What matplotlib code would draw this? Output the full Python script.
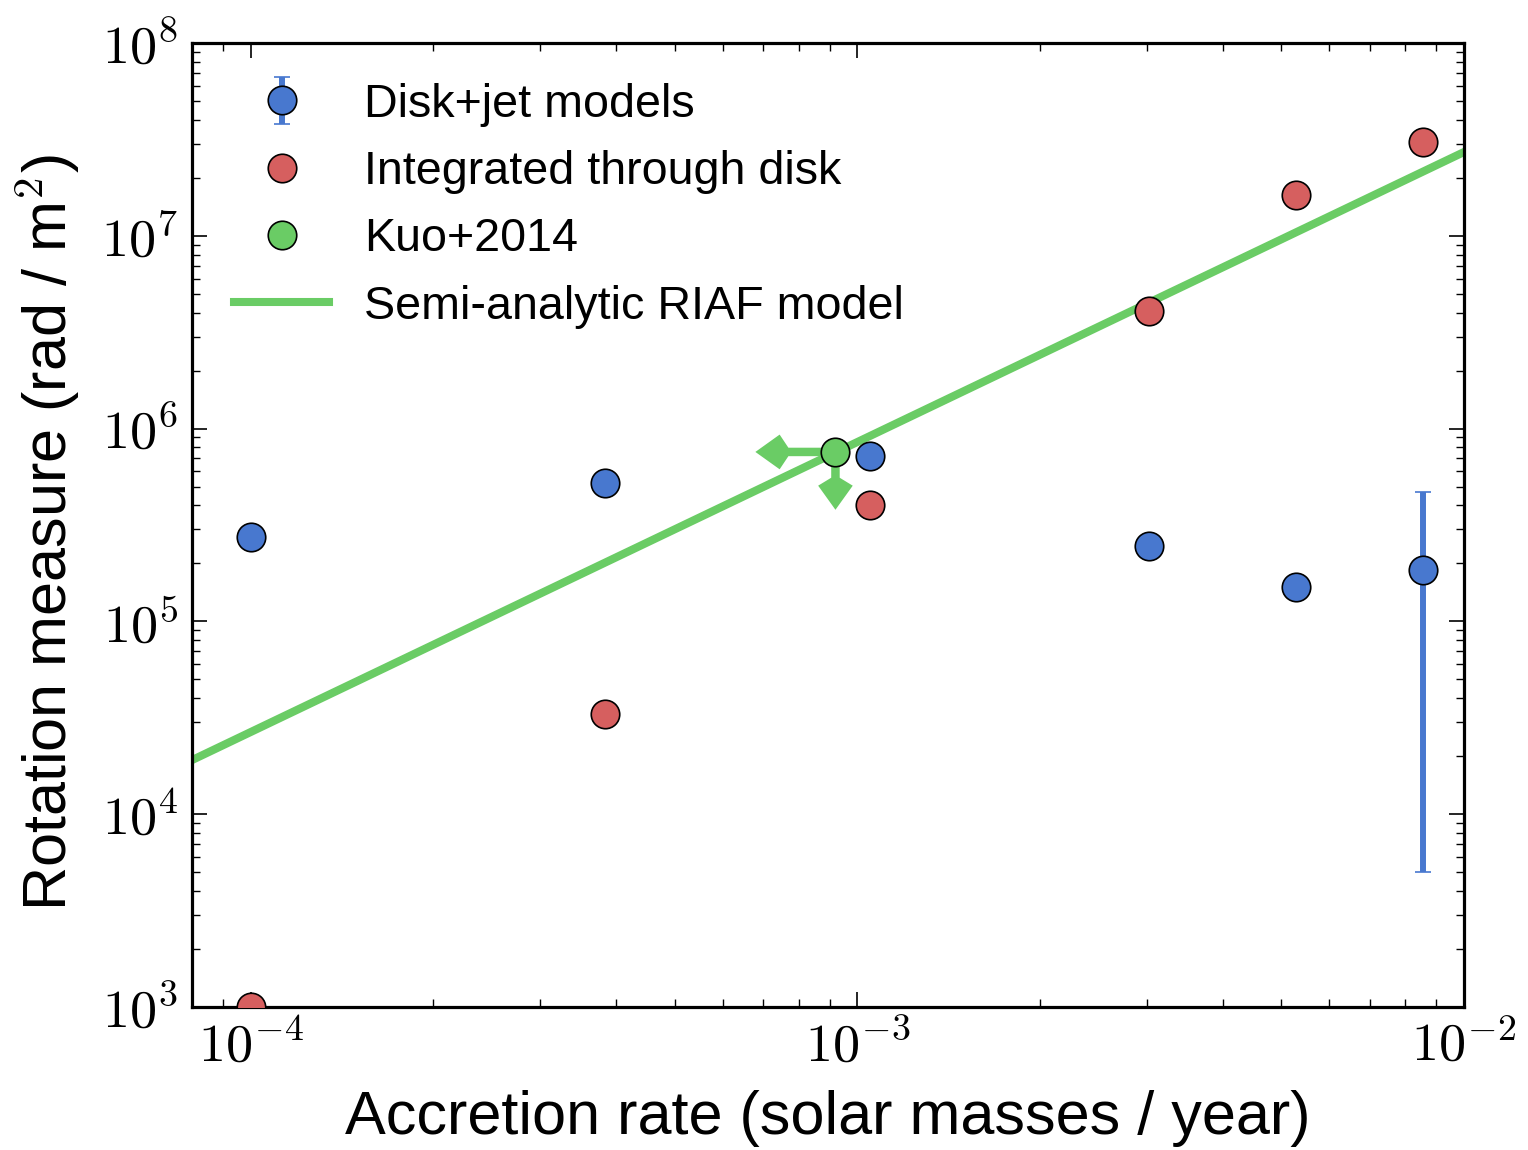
import numpy as np
import matplotlib.pyplot as plt
from matplotlib.patches import FancyArrow
from matplotlib.ticker import FuncFormatter

plt.rcParams['font.family'] = ['Liberation Sans', 'DejaVu Sans']
plt.rcParams['mathtext.fontset'] = 'cm'

blue, red, green = '#4878CF', '#D65F5F', '#6ACC65'

# accretion rates of the simulated models (solar masses / year)
mdot = [1.0e-4, 3.84e-4, 1.047e-3, 3.03e-3, 5.28e-3, 8.55e-3]

# disk+jet rotation measures, with the spread for the highest-rate model
rm_diskjet = [2.74e5, 5.2e5, 7.2e5, 2.46e5, 1.51e5, 1.85e5]
rm_err_lo = [0, 0, 0, 0, 0, 1.80e5]
rm_err_hi = [0, 0, 0, 0, 0, 2.84e5]

# rotation measure integrated through the disk only
rm_disk = [1.0e3, 3.31e4, 4.0e5, 4.07e6, 1.63e7, 3.07e7]

# Kuo et al. 2014 (upper limits in both directions)
kuo_mdot = 9.2e-4
kuo_rm = 7.57e5

# semi-analytic RIAF scaling
riaf_mdot = [8e-5, 1e-2]
riaf_rm = [1.91e4, 2.72e7]

fig = plt.figure(figsize=(15.28, 11.5), dpi=100)
ax = fig.add_axes([0.1257, 0.1243, 0.8324, 0.8383])
ax.set_xscale('log')
ax.set_yscale('log')
ax.set_xlim(8e-5, 1e-2)
ax.set_ylim(1e3, 1e8)

ax.plot(riaf_mdot, riaf_rm, color=green, lw=5.8, zorder=2,
        label='Semi-analytic RIAF model')

ax.errorbar(mdot, rm_diskjet, yerr=[rm_err_lo, rm_err_hi], fmt='o',
            color=blue, ms=20.5, mec='k', mew=1.2, elinewidth=4.3,
            capsize=6, capthick=1.5, zorder=3, label='Disk+jet models')
ax.plot(mdot, rm_disk, 'o', color=red, ms=20.5, mec='k', mew=1.2, zorder=3,
        label='Integrated through disk')

# upper-limit arrows, built in log10 space so the heads keep their shape
tr = ax.transLimits + ax.transAxes
kx, ky = np.log10(kuo_mdot), np.log10(kuo_rm)
ax.add_patch(FancyArrow(kx, ky, -0.132, 0, width=0.044, head_width=0.18,
                        head_length=0.040, overhang=-0.36,
                        length_includes_head=True, transform=tr,
                        color=green, lw=0, zorder=3))
ax.add_patch(FancyArrow(kx, ky, 0, -0.30, width=0.014, head_width=0.057,
                        head_length=0.125, overhang=-0.33,
                        length_includes_head=True, transform=tr,
                        color=green, lw=0, zorder=3))
ax.plot([kuo_mdot], [kuo_rm], 'o', color=green, ms=20.5, mec='k', mew=1.2,
        zorder=4, label='Kuo+2014')

sci = FuncFormatter(lambda v, pos: r'$10^{%d}$' % round(np.log10(v)))
ax.xaxis.set_major_formatter(sci)
ax.yaxis.set_major_formatter(sci)

for side in ax.spines.values():
    side.set_linewidth(2.3)
ax.tick_params(which='both', direction='in', top=True, right=True)
ax.tick_params(which='major', length=11, width=1.2, labelsize=39, pad=10)
ax.tick_params(which='minor', length=6, width=1.0)

ax.set_xlabel('Accretion rate (solar masses / year)', fontsize=44, labelpad=12)
ax.set_ylabel('Rotation measure (rad / m$^2$)', fontsize=44, labelpad=14)
ax.yaxis.label.set_y(0.492)

h, l = ax.get_legend_handles_labels()
order = [l.index(s) for s in ['Disk+jet models', 'Integrated through disk',
                              'Kuo+2014', 'Semi-analytic RIAF model']]
ax.legend([h[i] for i in order], [l[i] for i in order], loc='upper left',
          bbox_to_anchor=(0.0071, 0.9927), frameon=False, fontsize=33.6,
          numpoints=1, handlelength=2.05, handletextpad=0.75,
          labelspacing=0.5, borderaxespad=0.3)

fig.savefig('out.png', dpi=100)
